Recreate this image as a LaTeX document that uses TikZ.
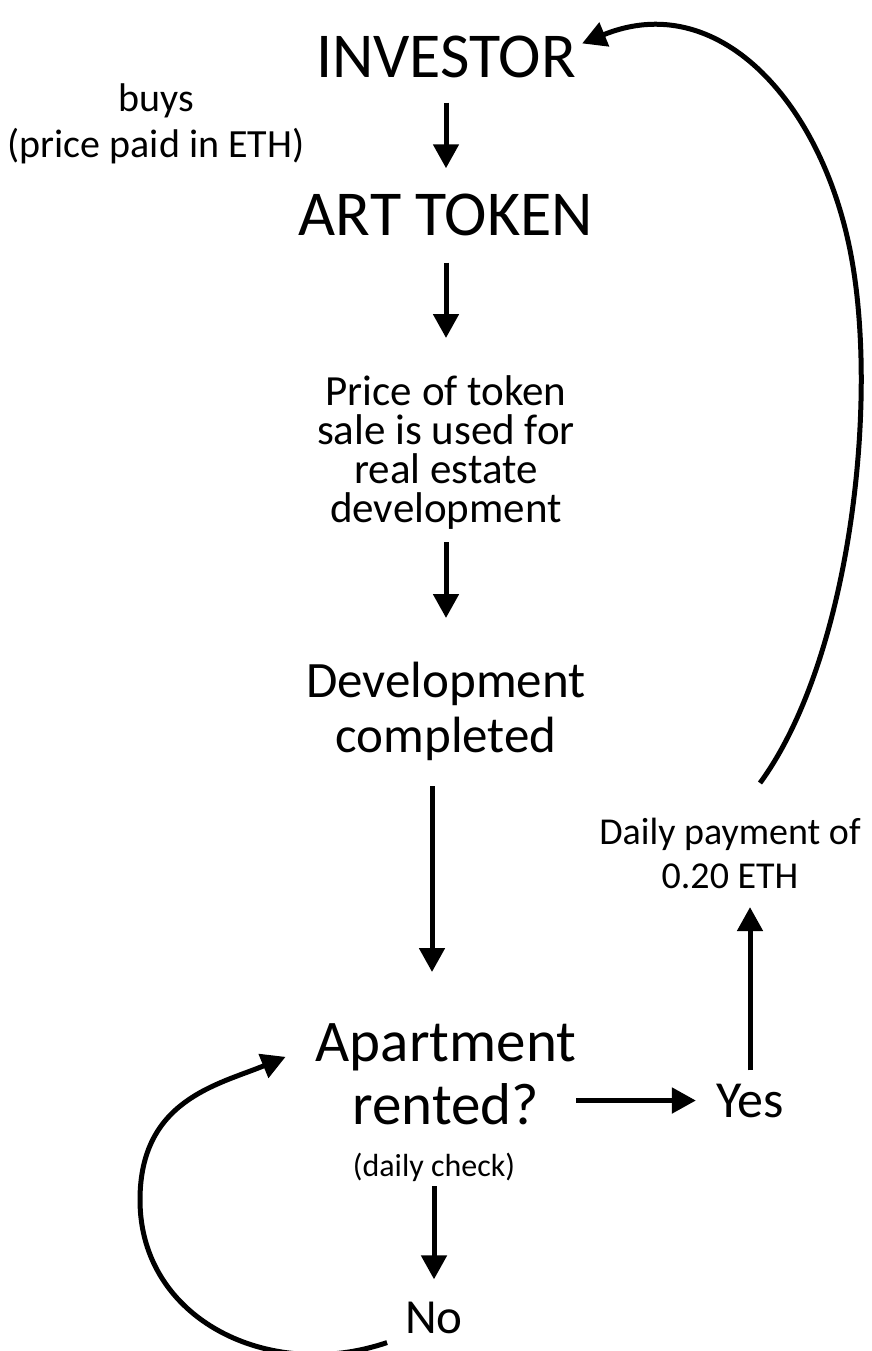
\documentclass[tikz,border=0pt]{standalone}
\usepackage{fontspec}
\setmainfont{Carlito}
\usetikzlibrary{arrows.meta}
\tikzset{
  lbl/.style={inner sep=0pt, align=center},
  flow/.style={line width=5pt, -{Triangle[length=24pt,width=25pt]}},
}
\newcommand{\fs}[2]{\fontsize{#1}{#2}\selectfont}
\begin{document}
\begin{tikzpicture}[x=1pt,y=-1pt]
\useasboundingbox (0,0) rectangle (872,1351);
\node[lbl,anchor=base,font=\fs{64}{70}] (inv) at (446,78) {INVESTOR};
\node[lbl,anchor=north,font=\fs{40}{46}] (buys) at (156,84) {buys\\(price paid in ETH)};
\node[lbl,anchor=base,font=\fs{64}{70}] (art) at (446,235) {ART TOKEN};
\node[lbl,anchor=north,font=\fs{43}{39}] (price) at (446,375)
  {Price of token\\sale is used for\\real estate\\development};
\node[lbl,anchor=north,font=\fs{51}{55}] (dev) at (446,662) {Development\\completed};
\node[lbl,anchor=north,font=\fs{59}{63}] (apt) at (446,1023) {Apartment\\rented?};
\node[lbl,anchor=base,font=\fs{32}{36}] (chk) at (434,1176) {(daily check)};
\node[lbl,anchor=base,font=\fs{49}{56}] (no) at (434,1333) {No};
\node[lbl,anchor=base,font=\fs{52}{60}] (yes) at (750,1117) {Yes};
\node[lbl,anchor=north,font=\fs{38}{44}] (pay) at (730,818) {Daily payment of\\0.20 ETH};
% straight arrows
\foreach \a/\b/\s/\e in {inv/art/24/25, art/price/27/37, price/dev/13/44}
  \draw[flow] ([yshift=-\s pt]\a.south) -- ([yshift=\e pt]\b.north);
\draw[flow] ([shift={(-14,25)}]dev.south) -- ([shift={(-14,-51)}]apt.north);
\draw[flow] ([yshift=-5pt]chk.south) -- ([yshift=22pt]no.north);
\draw[flow] (apt.east |- yes.west) -- ([xshift=-20pt]yes.west);
\draw[flow] ([yshift=13pt]yes.north) -- ([yshift=-18pt]yes.north |- pay.south);
% loops
\draw[flow] ([shift={(-18,9)}]no.south west) .. controls +(-117,40) and +(0,120) .. (140,1200)
  .. controls +(0,-100) and +(-68,28) .. ([shift={(-30,-17)}]apt.west);
\draw[flow] ([shift={(30,-35)}]pay.north) .. controls +(90,-123) and +(30,150) .. (850,250)
  .. controls +(-30,-150) and +(135,-55) .. ([shift={(6,-14)}]inv.east);
\end{tikzpicture}
\end{document}
